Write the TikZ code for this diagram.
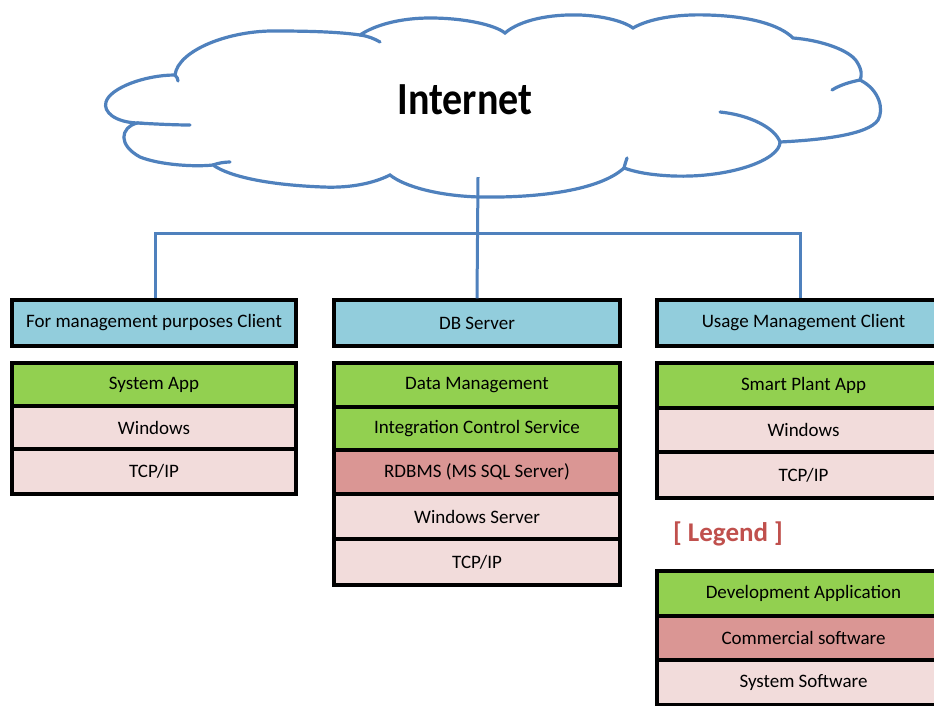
\documentclass[tikz,border=0pt]{standalone}
\usepackage{fontspec}
\setmainfont{Carlito}
\definecolor{cloudblue}{RGB}{79,129,189}
\definecolor{hdrblue}{RGB}{146,205,220}
\definecolor{appgreen}{RGB}{146,208,80}
\definecolor{compink}{RGB}{218,150,148}
\definecolor{syspink}{RGB}{242,220,219}
\definecolor{legred}{RGB}{192,80,77}
\tikzset{
  lay/.style={draw=black,line width=3.4pt,inner sep=0pt,
    font=\fontsize{19}{21}\selectfont,text=black},
  colL/.style={lay,minimum width=284pt},
  colM/.style={lay,minimum width=286pt},
  colR/.style={lay,minimum width=293pt},
  hdr/.style={fill=hdrblue},
  app/.style={fill=appgreen},
  com/.style={fill=compink},
  sys/.style={fill=syspink},
  wire/.style={draw=cloudblue,line width=3pt},
  cloudline/.style={draw=cloudblue,line width=3.2pt,line cap=round}
}
\begin{document}
\begin{tikzpicture}[x=1pt,y=-1pt]
\clip (0,0) rectangle (934,705);
\fill[white] (0,0) rectangle (934,705);

% cloud
\path[cloudline,fill=white]
  (137,123) .. controls (115,122) and (103,112) .. (106,102)
  .. controls (110,88) and (145,75) .. (175,75)
  .. controls (178,50) and (230,30) .. (277,31)
  .. controls (310,31) and (340,32) .. (360,35)
  .. controls (375,25) and (400,18) .. (430,18)
  .. controls (465,18) and (495,25) .. (505,33)
  .. controls (520,20) and (550,14) .. (580,15)
  .. controls (605,16) and (625,22) .. (633,28)
  .. controls (650,18) and (680,14) .. (707,15)
  .. controls (750,16) and (780,25) .. (793,38)
  .. controls (820,40) and (850,50) .. (857,62)
  .. controls (862,70) and (862,76) .. (860,80)
  .. controls (880,90) and (884,110) .. (878,120)
  .. controls (868,135) and (820,140) .. (780,142)
  .. controls (780,160) and (730,178) .. (673,176)
  .. controls (650,175) and (635,172) .. (624,168)
  .. controls (600,190) and (540,198) .. (480,197)
  .. controls (440,196) and (405,187) .. (390,175)
  .. controls (370,185) and (345,188) .. (323,187)
  .. controls (270,185) and (230,177) .. (213,165)
  .. controls (195,167) and (160,165) .. (140,157)
  .. controls (118,145) and (120,128) .. (137,123) -- cycle;
% hooks
\draw[cloudline] (137,123) .. controls (155,124) and (175,125) .. (190,125);
\draw[cloudline] (175,75) .. controls (177,77) and (178,79) .. (178,81);
\draw[cloudline] (360,35) .. controls (368,36) and (375,39) .. (380,42);
\draw[cloudline] (860,80) .. controls (850,82) and (840,85) .. (832,90);
\draw[cloudline] (780,142) .. controls (775,128) and (750,115) .. (720,112);
\draw[cloudline] (624,168) .. controls (625,164) and (626,161) .. (627,158);
\draw[cloudline] (213,165) .. controls (218,163) and (225,162) .. (230,162);

\node[font=\fontsize{46}{50}\selectfont\bfseries] (net) at (465,100) {\scalebox{0.87}[1]{Internet}};
\coordinate (netdrop) at (478,177);

% left column
\node[colL,hdr,minimum height=46pt] (hL) at (154,323) {For management purposes Client};
\node[colL,app,minimum height=43pt] (L1) at (154,384.5) {System App};
\node[colL,sys,minimum height=43pt] (L2) at (154,427.5) {Windows};
\node[colL,sys,minimum height=45pt] (L3) at (154,471.5) {TCP/IP};

% middle column
\node[colM,hdr,minimum height=46pt] (hM) at (477,323) {DB Server};
\node[colM,app,minimum height=44pt] (M1) at (477,385) {Data Management};
\node[colM,app,minimum height=43pt] (M2) at (477,428.5) {Integration Control Service};
\node[colM,com,minimum height=44pt] (M3) at (477,472) {RDBMS (MS SQL Server)};
\node[colM,sys,minimum height=45pt] (M4) at (477,516.5) {Windows Server};
\node[colM,sys,minimum height=46pt] (M5) at (477,562) {TCP/IP};

% right column
\node[colR,hdr,minimum height=46pt] (hR) at (803.5,323) {Usage Management Client};
\node[colR,app,minimum height=45pt] (R1) at (803.5,385.5) {Smart Plant App};
\node[colR,sys,minimum height=44pt] (R2) at (803.5,430) {Windows};
\node[colR,sys,minimum height=46pt] (R3) at (803.5,475) {TCP/IP};

% legend
\node[font=\fontsize{27}{30}\selectfont\bfseries,text=legred] (leg) at (728,534) {[ Legend ]};
\node[colR,app,minimum height=45pt] (G1) at (803.5,593.5) {Development Application};
\node[colR,com,minimum height=44pt] (G2) at (803.5,638) {Commercial software};
\node[colR,sys,minimum height=45pt] (G3) at (803.5,682.5) {System Software};

% connectors
\coordinate (busL) at (155,233);
\coordinate (busR) at (800,233);
\draw[wire] (netdrop) -- (hM.north);
\draw[wire] (busL |- hL.north) -- (busL) -- (busR) -- (busR |- hR.north);
\end{tikzpicture}
\end{document}
